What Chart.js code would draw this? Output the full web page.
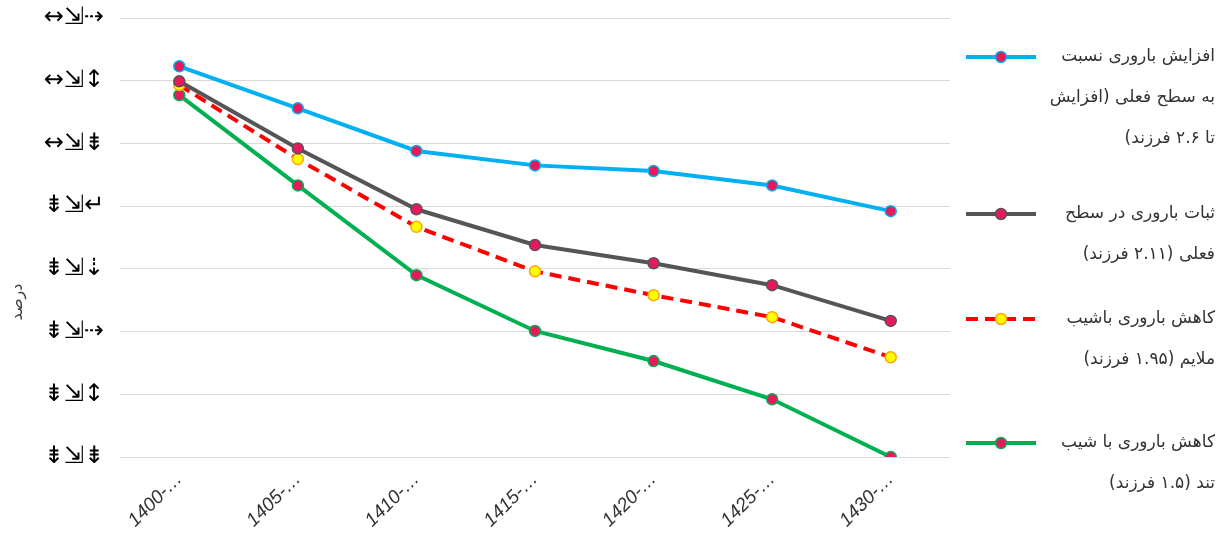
<!DOCTYPE html>
<html>
<head>
<meta charset="utf-8">
<script src="https://cdn.jsdelivr.net/npm/chart.js@4"></script>
<style>
  body { margin: 0; background: #fff; }
  #wrap { width: 1224px; height: 544px; }
</style>
</head>
<body>
<div id="wrap"><canvas id="myChart" width="1224" height="544"></canvas></div>
<script>
// دوره ها
const dorehha = ["1400-…", "1405-…", "1410-…", "1415-…", "1420-…", "1425-…", "1430-…"];

// برچسب های محور عمودی (از پایین به بالا)
const yTickLabels = ["⇟⇲⇟", "⇟⇲↕", "⇟⇲⇢", "⇟⇲⇣", "⇟⇲↵", "↔⇲⇟", "↔⇲↕", "↔⇲⇢"];

const afzayesh = [6.23, 5.56, 4.88, 4.65, 4.56, 4.33, 3.92];
const sabat = [5.99, 4.92, 3.95, 3.38, 3.09, 2.74, 2.17];
const kaheshMolayem = [5.93, 4.75, 3.67, 2.96, 2.58, 2.23, 1.59];
const kaheshTond = [5.77, 4.33, 2.90, 2.01, 1.53, 0.92, 0.0];

const legendLines = [
  ["افزایش باروری نسبت", "به سطح فعلی (افزایش", "تا ۲.۶ فرزند)"],
  ["ثبات باروری در سطح", "فعلی (۲.۱۱ فرزند)"],
  ["کاهش باروری باشیب", "ملایم (۱.۹۵ فرزند)"],
  ["کاهش باروری با شیب", "تند (۱.۵ فرزند)"],
];
const legendY = [57, 214, 319, 443];

const pink = "#e8185d";

function ds(label, data, color, extra) {
  return Object.assign({
    label: label,
    data: data,
    borderColor: color,
    borderWidth: 4,
    pointRadius: 5.5,
    pointBackgroundColor: pink,
    pointBorderColor: color,
    pointBorderWidth: 1.5,
    tension: 0,
  }, extra || {});
}

// لجند و عنوان محور
const legendPlugin = {
  id: "rastLegend",
  afterDraw(chart) {
    const ctx = chart.ctx;
    ctx.save();
    chart.data.datasets.forEach((d, i) => {
      const y = legendY[i];
      ctx.beginPath();
      ctx.strokeStyle = d.borderColor;
      ctx.lineWidth = 4;
      ctx.setLineDash(d.borderDash || []);
      ctx.moveTo(966, y);
      ctx.lineTo(1036, y);
      ctx.stroke();
      ctx.setLineDash([]);
      ctx.beginPath();
      ctx.arc(1001, y, 5.5, 0, Math.PI * 2);
      ctx.fillStyle = d.pointBackgroundColor;
      ctx.fill();
      ctx.lineWidth = 1.5;
      ctx.strokeStyle = d.pointBorderColor;
      ctx.stroke();

      ctx.fillStyle = "#333";
      ctx.font = "17px 'DejaVu Sans'";
      ctx.textAlign = "right";
      ctx.textBaseline = "middle";
      ctx.direction = "rtl";
      legendLines[i].forEach((t, j) => {
        ctx.fillText(t, 1215, y + j * 41);
      });
    });
    ctx.translate(18, 302);
    ctx.rotate(-Math.PI / 2);
    ctx.direction = "rtl";
    ctx.textAlign = "center";
    ctx.textBaseline = "middle";
    ctx.font = "16px 'DejaVu Sans'";
    ctx.fillStyle = "#404040";
    ctx.fillText("درصد", 0, 0);
    ctx.restore();
  },
};

new Chart(document.getElementById("myChart"), {
  type: "line",
  data: {
    labels: dorehha,
    datasets: [
      ds("افزایش", afzayesh, "#00b0f0"),
      ds("ثبات", sabat, "#555555"),
      ds("کاهش ملایم", kaheshMolayem, "#ff0000", {
        borderDash: [12, 7],
        pointBackgroundColor: "#ffff00",
        pointBorderColor: "#ffa500",
      }),
      ds("کاهش تند", kaheshTond, "#00b050"),
    ],
  },
  options: {
    responsive: false,
    animation: false,
    layout: { padding: { top: 18, right: 274, left: 0, bottom: 0 } },
    plugins: {
      legend: { display: false },
      tooltip: { enabled: false },
    },
    scales: {
      x: {
        offset: true,
        grid: { display: false },
        border: { display: false },
        ticks: {
          color: "#333",
          font: { family: "Liberation Sans", size: 19, style: "italic" },
          maxRotation: 45,
          minRotation: 45,
        },
        afterFit: (s) => { s.height = 87; },
      },
      y: {
        min: 0,
        max: 7,
        border: { display: false },
        grid: { color: "#d9d9d9", lineWidth: 1, drawTicks: false },
        ticks: {
          stepSize: 1,
          padding: 16,
          color: "#000",
          font: { family: "DejaVu Sans", size: 24 },
          callback: (v) => yTickLabels[v],
        },
        afterFit: (s) => {
          s.width = 120;
          s.paddingTop = 0;
          s.paddingBottom = 0;
        },
      },
    },
  },
  plugins: [legendPlugin],
});
</script>
</body>
</html>
